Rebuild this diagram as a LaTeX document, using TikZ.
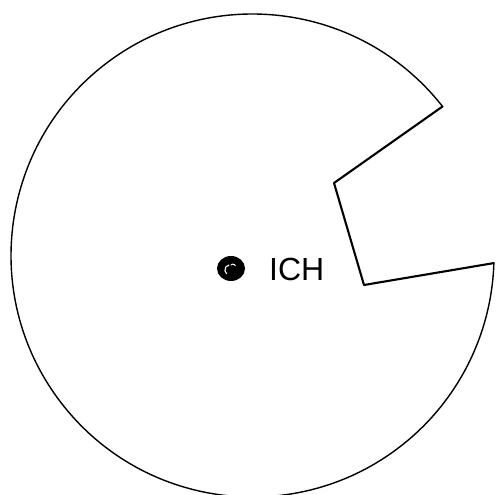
\documentclass[tikz,border=0pt]{standalone}
\usepackage{fontspec}
\setmainfont{Liberation Sans}
\usetikzlibrary{calc}
\begin{document}
\begin{tikzpicture}[x=1pt,y=1pt,
  rim/.style={line width=1.4pt,line join=round,line cap=round},
  notch/.style={line width=2.1pt,line join=round,line cap=round},
  lbl/.style={inner sep=0pt,font=\fontsize{32}{38}\selectfont}]
\useasboundingbox (0,0) rectangle (495,495);
\clip (0,0) rectangle (495,495);
\coordinate (O) at (252.5,239.5);
\coordinate (A) at ($(O)+(38.1:241.5)$);
\coordinate (B) at (334,312);
\coordinate (C) at (364,210);
\coordinate (D) at ($(O)+(358.2:241.5)$);
\draw[rim] (A) arc[start angle=38.1,end angle=358.2,radius=241.5];
\draw[notch] (A) -- (B) -- (C) -- (D);
\fill (231,226.5) ellipse[x radius=14,y radius=12.5];
\draw[white,line width=1.1pt,line cap=round] (229,230) arc[start angle=100,end angle=230,radius=5];
\draw[white,line width=1pt,line cap=round] (231,230) arc[start angle=140,end angle=20,radius=2.5];
\node[lbl,anchor=base west] (ich) at (269,214) {ICH};
\end{tikzpicture}
\end{document}
